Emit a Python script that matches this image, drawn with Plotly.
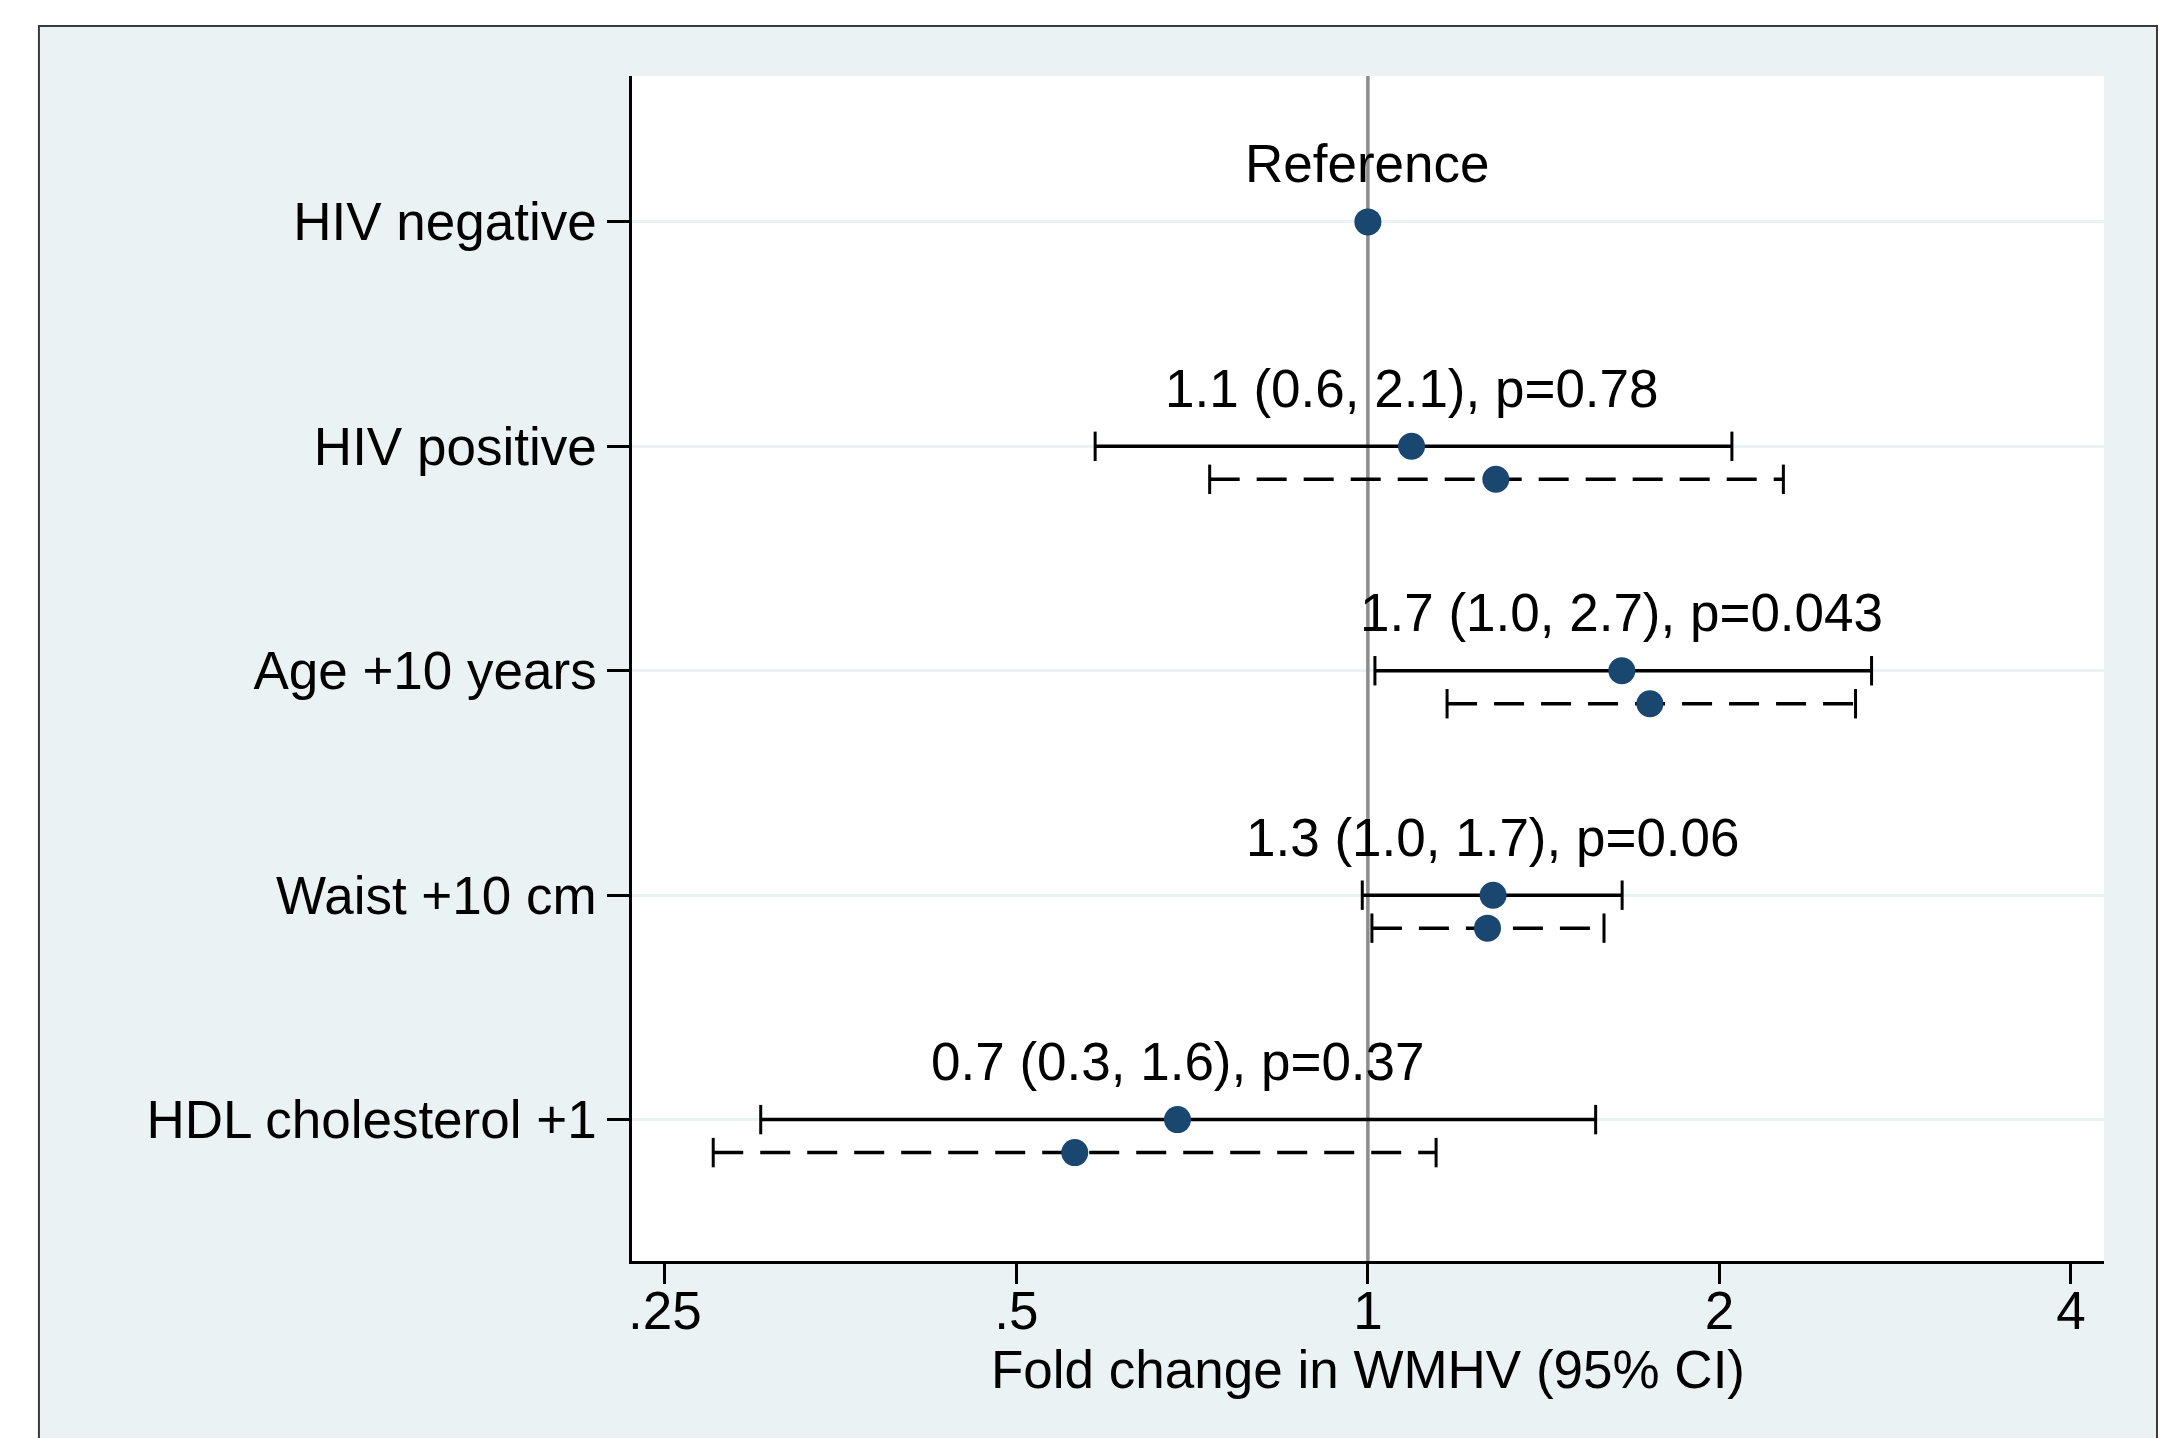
import math
import plotly.graph_objects as go

# ---------------- data ----------------
categories = ["HIV negative", "HIV positive", "Age +10 years", "Waist +10 cm", "HDL cholesterol +1"]
row_pos = [1, 2, 3, 4, 5]

# solid (model 1) estimates
est1 = [1.0, 1.09, 1.65, 1.28, 0.687]
lo1 = [None, 0.584, 1.014, 0.989, 0.302]
hi1 = [None, 2.05, 2.70, 1.651, 1.567]

# dashed (model 2) estimates
est2 = [None, 1.287, 1.744, 1.266, 0.561]
lo2 = [None, 0.732, 1.169, 1.008, 0.275]
hi2 = [None, 2.269, 2.616, 1.593, 1.144]

labels = ["Reference", "1.1 (0.6, 2.1), p=0.78", "1.7 (1.0, 2.7), p=0.043",
          "1.3 (1.0, 1.7), p=0.06", "0.7 (0.3, 1.6), p=0.37"]

xtick_vals = [0.25, 0.5, 1, 2, 4]
xtick_text = [".25", ".5", "1", "2", "4"]
x_title = "Fold change in WMHV (95% CI)"

# ---------------- style ----------------
FONT = "Liberation Sans, Arial, Helvetica, sans-serif"
FS = 53
NAVY = "#1a476f"
BG = "#eaf2f3"
DASH_OFF = 0.147
Y_RANGE = [5.63, 0.35]
X_RANGE = [math.log10(0.2343), math.log10(4.27)]

fig = go.Figure()

# reference line at 1
fig.add_trace(go.Scatter(x=[1, 1], y=[Y_RANGE[1], Y_RANGE[0]], mode="lines",
                         line=dict(color="#8c8c8c", width=3.5), hoverinfo="skip"))

def seg(lo, hi, ys):
    xs, yy = [], []
    for a, b, y in zip(lo, hi, ys):
        if a is None:
            continue
        xs += [a, b, None]
        yy += [y, y, None]
    return xs, yy

y_solid = row_pos
y_dash = [r + DASH_OFF for r in row_pos]

xs, yy = seg(lo1, hi1, y_solid)
fig.add_trace(go.Scatter(x=xs, y=yy, mode="lines", line=dict(color="black", width=3.5)))
xs, yy = seg(lo2, hi2, y_dash)
fig.add_trace(go.Scatter(x=xs, y=yy, mode="lines",
                         line=dict(color="black", width=3.5, dash="30px,17px")))

# caps
capx, capy = [], []
for lo, hi, ys in ((lo1, hi1, y_solid), (lo2, hi2, y_dash)):
    for a, b, y in zip(lo, hi, ys):
        if a is None:
            continue
        capx += [a, b]
        capy += [y, y]
fig.add_trace(go.Scatter(x=capx, y=capy, mode="markers",
                         marker=dict(symbol="line-ns", size=21, color="black",
                                     line=dict(color="black", width=3))))

# points
px = [v for v in est1] + [v for v in est2 if v is not None]
py = list(y_solid) + [y for v, y in zip(est2, y_dash) if v is not None]
fig.add_trace(go.Scatter(x=px, y=py, mode="markers",
                         marker=dict(symbol="circle", size=27, color=NAVY,
                                     line=dict(width=0))))

# labels
for lab, v, y in zip(labels, est1, y_solid):
    fig.add_annotation(x=math.log10(v), y=y, xref="x", yref="y", text=lab,
                       showarrow=False, yanchor="middle", yshift=58,
                       font=dict(family=FONT, size=FS, color="black"))

# outer frame and white plot region
fig.add_shape(type="rect", xref="paper", yref="paper", x0=-0.4029, x1=1.036,
              y0=-0.2, y1=1.0422, fillcolor=BG, line=dict(color="#3a3a3a", width=2),
              layer="below")
fig.add_shape(type="rect", xref="paper", yref="paper", x0=0, x1=1, y0=0, y1=1,
              fillcolor="white", line=dict(width=0), layer="below")

fig.update_layout(
    width=2178, height=1438,
    margin=dict(l=632, r=74, t=76, b=177, autoexpand=False),
    paper_bgcolor="white", plot_bgcolor="rgba(0,0,0,0)",
    showlegend=False,
    font=dict(family=FONT, size=FS, color="black"),
)
fig.update_xaxes(type="log", range=X_RANGE, tickvals=xtick_vals, ticktext=xtick_text,
                 showgrid=False, zeroline=False, showline=True, linecolor="black",
                 linewidth=2.5, ticks="outside", ticklen=20, tickwidth=2.5, tickcolor="black",
                 ticklabelstandoff=-18,
                 tickfont=dict(family=FONT, size=FS),
                 title=dict(text=x_title, standoff=12, font=dict(family=FONT, size=FS)),
                 automargin=False)
fig.update_yaxes(range=Y_RANGE, tickvals=row_pos, ticktext=categories,
                 showgrid=True, gridcolor=BG, gridwidth=3, zeroline=False,
                 showline=True, linecolor="black", linewidth=2.5,
                 ticks="outside", ticklen=22, tickwidth=2.5, tickcolor="black",
                 tickfont=dict(family=FONT, size=FS), automargin=False)

fig.write_html("out.html", config={"displayModeBar": False},
               post_script="document.body.style.margin='0';document.body.style.overflow='hidden';")
